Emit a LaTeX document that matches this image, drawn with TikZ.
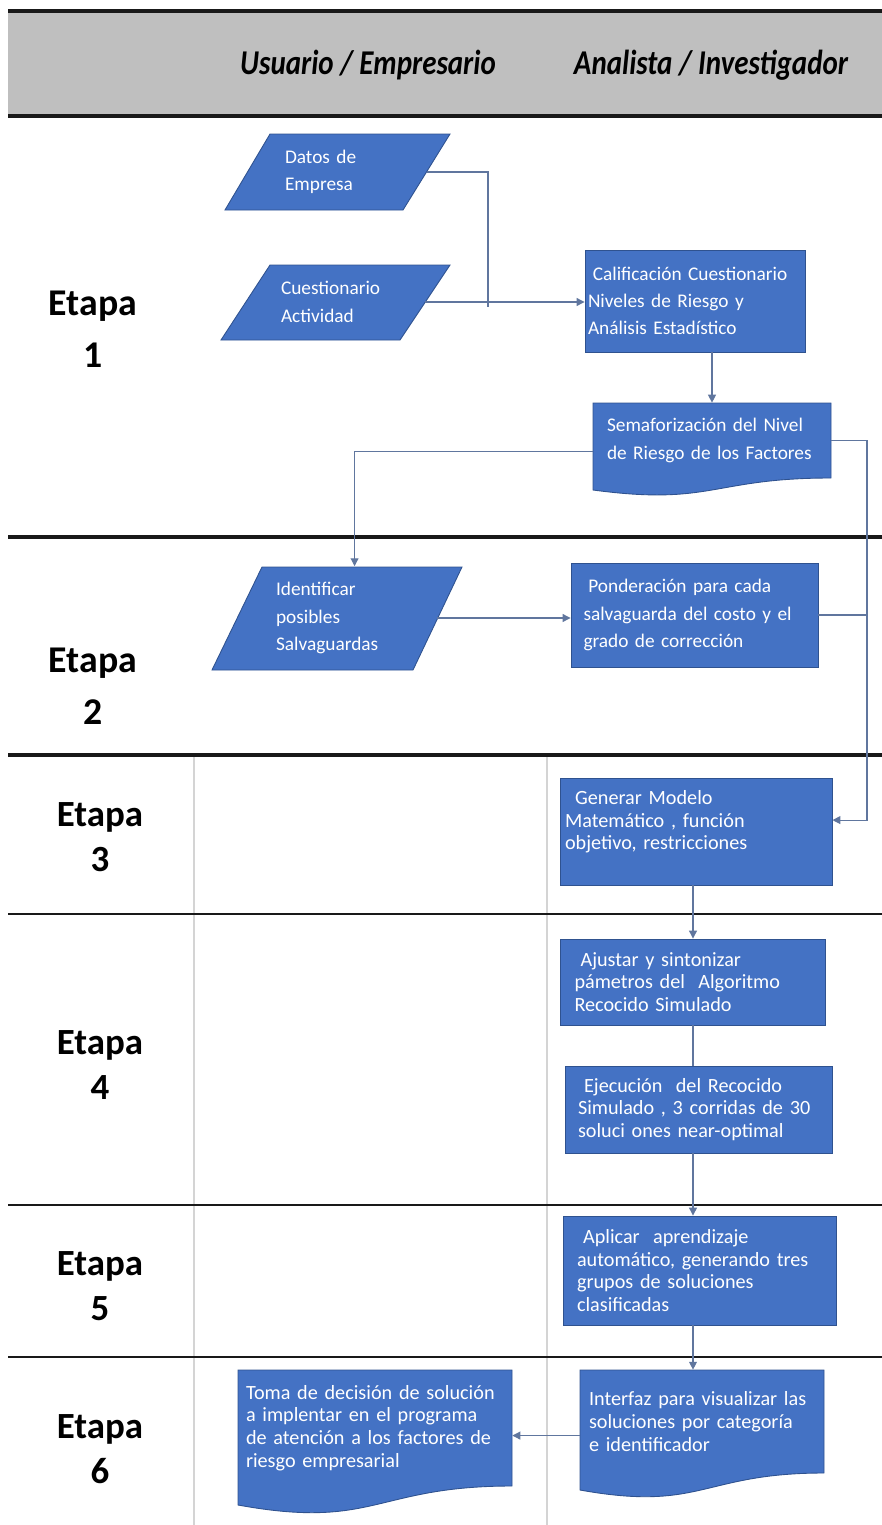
\documentclass[tikz,border=0pt]{standalone}
\usepackage{fontspec}
\setmainfont{Carlito}
\usepackage{graphicx}
\usetikzlibrary{arrows.meta}
\definecolor{boxblue}{RGB}{68,114,196}
\definecolor{boxline}{RGB}{47,82,143}
\definecolor{linkblue}{RGB}{96,118,158}
\definecolor{headgray}{RGB}{191,191,191}
\definecolor{gridgray}{RGB}{212,212,212}
\newlength{\px}
\setlength{\px}{0.02cm}
\tikzset{
  shapefill/.style={fill=boxblue, draw=boxline, line width=0.5pt},
  shapetext/.style={inner sep=0pt, align=left, text=white, font=\fontsize{11}{15.5}\selectfont},
  lowtext/.style={shapetext, font=\fontsize{11.5}{13}\selectfont},
  procbox/.style={shapefill, shapetext},
  lowbox/.style={shapefill, lowtext},
  stagelabel/.style={align=center, font=\fontsize{21.5}{29.5}\selectfont\bfseries},
  lowlabel/.style={align=center, font=\fontsize{21}{26}\selectfont\bfseries},
  lanetitle/.style={font=\fontsize{16.5}{20}\selectfont\bfseries\itshape},
  sepline/.style={draw=black!90, line width=#1},
  link/.style={draw=linkblue, line width=0.6pt},
  arr/.style={link, -{Triangle[length=4.5pt, width=4.5pt]}},
}
\begin{document}
\begin{tikzpicture}[x=0.02cm, y=-0.02cm]
    \useasboundingbox (0,0) rectangle (882,1525);
    \fill[headgray] (8,13) rectangle (882,114);
    \draw[sepline=2.3pt] (8,11) -- (882,11);
    \draw[sepline=2.8pt] (8,116) -- (882,116);
    \node[lanetitle] (usr) at (368,65) {\scalebox{1}[1.2]{Usuario / Empresario}};
    \node[lanetitle] (ana) at (711,65) {\scalebox{1}[1.2]{Analista / Investigador}};
    \draw[gridgray, line width=0.6pt] (194,755) -- (194,1525) (547,755) -- (547,1525);
    \draw[sepline=2.8pt] (8,537) -- (882,537);
    \draw[sepline=2.2pt] (8,755) -- (882,755);
    \draw[sepline=1.6pt] (8,914) -- (882,914);
    \draw[sepline=1.6pt] (8,1205) -- (882,1205);
    \draw[sepline=1.6pt] (8,1357) -- (882,1357);
    \node[stagelabel] (e1) at (93,329) {Etapa\\1};
    \node[stagelabel] (e2) at (93,686) {Etapa\\2};
    \foreach \n/\y in {3/837,4/1065,5/1286,6/1449}
        \node[lowlabel] (e\n) at (100,\y) {Etapa\\\n};

    \filldraw[shapefill] (270,134) -- (450,134) -- (403,210) -- (225,210) -- cycle;
    \node[shapetext, minimum width=180\px, minimum height=76\px, text width=104\px] (datos) at (337,172) {Datos de\\Empresa};
    \filldraw[shapefill] (270,265) -- (450,265) -- (400,340) -- (221,340) -- cycle;
    \node[shapetext, minimum width=180\px, minimum height=75\px, text width=108\px] (cuest) at (335,302) {Cuestionario\\Actividad};
    \node[procbox, minimum width=220\px, minimum height=102\px, text width=214\px] (calif) at (695,301)
    {\hspace*{0.25em}Calificación Cuestionario\\Niveles de Riesgo y\\Análisis Estadístico};
    \filldraw[shapefill] (593,403) -- (831,403) -- (831,478) .. controls (712,478) and (712,506) .. (593,490) -- cycle;
    \node[shapetext, minimum width=238\px, minimum height=75\px, text width=210\px] (sema) at (712,440.5)
    {Semaforización del Nivel\\de Riesgo de los Factores};

    \filldraw[shapefill] (262,567) -- (462,567) -- (413,670) -- (212,670) -- cycle;
    \node[shapetext, minimum width=200\px, minimum height=103\px, text width=122\px] (ident) at (337,618) {Identificar\\posibles\\Salvaguardas};
    \node[procbox, minimum width=247\px, minimum height=104\px, text width=222\px] (pond) at (694.5,615)
    {\hspace*{0.25em}Ponderación para cada\\salvaguarda del costo y el\\grado de corrección};

    \node[lowbox, minimum width=272\px, minimum height=107\px, text width=262\px] (gen) at (696,831.5)
    {\hspace*{0.5em}Generar Modelo\\Matemático , función\\objetivo, restricciones\\\mbox{}};
    \node[lowbox, minimum width=265\px, minimum height=86\px, text width=236\px] (ajus) at (692.5,982)
    {\hspace*{0.3em}Ajustar y sintonizar\\pámetros del\ \ Algoritmo\\Recocido Simulado};
    \node[lowbox, minimum width=267\px, minimum height=87\px, text width=241\px] (ejec) at (698.5,1109.5)
    {\hspace*{0.3em}Ejecución\ \ del Recocido\\Simulado , 3 corridas de 30\\soluci ones near-optimal};
    \node[lowbox, minimum width=273\px, minimum height=109\px, text width=245\px] (apli) at (699.5,1270.5)
    {\hspace*{0.3em}Aplicar\ \ aprendizaje\\automático, generando tres\\grupos de soluciones\\clasificadas};
    \filldraw[shapefill] (580,1370) -- (824,1370) -- (824,1473) .. controls (702,1473) and (702,1512) .. (580,1490) -- cycle;
    \node[lowtext, minimum width=244\px, minimum height=103\px, text width=226\px] (inter) at (702,1421.5)
    {Interfaz para visualizar las\\soluciones por categoría\\e identificador};
    \filldraw[shapefill] (238,1370) -- (512,1370) -- (512,1486) .. controls (375,1486) and (375,1530) .. (238,1505) -- cycle;
    \node[lowtext, minimum width=274\px, minimum height=116\px, text width=258\px] (toma) at (375,1428)
    {Toma de decisión de solución\\a implentar en el programa\\de atención a los factores de\\riesgo empresarial};

    \coordinate (join) at (488,307);
    \coordinate (rail) at (867,0);
    \coordinate (axis) at (693,0);
    \draw[link] (datos.east) -| (join);
    \draw[arr] (cuest.east) -- (cuest.east -| calif.west);
    \draw[arr] (calif.south -| sema.north) -- (sema.north);
    \draw[arr] ([yshift=-6pt]sema.west) -| ([xshift=10pt]ident.north);
    \draw[arr] (sema.east) -- (sema.east -| rail) |- ([yshift=6.5pt]gen.east);
    \draw[link, line width=1.2pt] (pond.east) -- (pond.east -| rail);
    \draw[arr] (ident.east) -- (ident.east -| pond.west);
    \draw[arr] (gen.south -| axis) -- (ajus.north -| axis);
    \draw[link] (ajus.south -| axis) -- (ejec.north -| axis);
    \draw[arr] (ejec.south -| axis) -- (apli.north -| axis);
    \draw[arr] (apli.south -| axis) -- (inter.north -| axis);
    \draw[arr] ([yshift=-8pt]inter.west) -- ([yshift=-8pt]inter.west -| toma.east);
\end{tikzpicture}
\end{document}
